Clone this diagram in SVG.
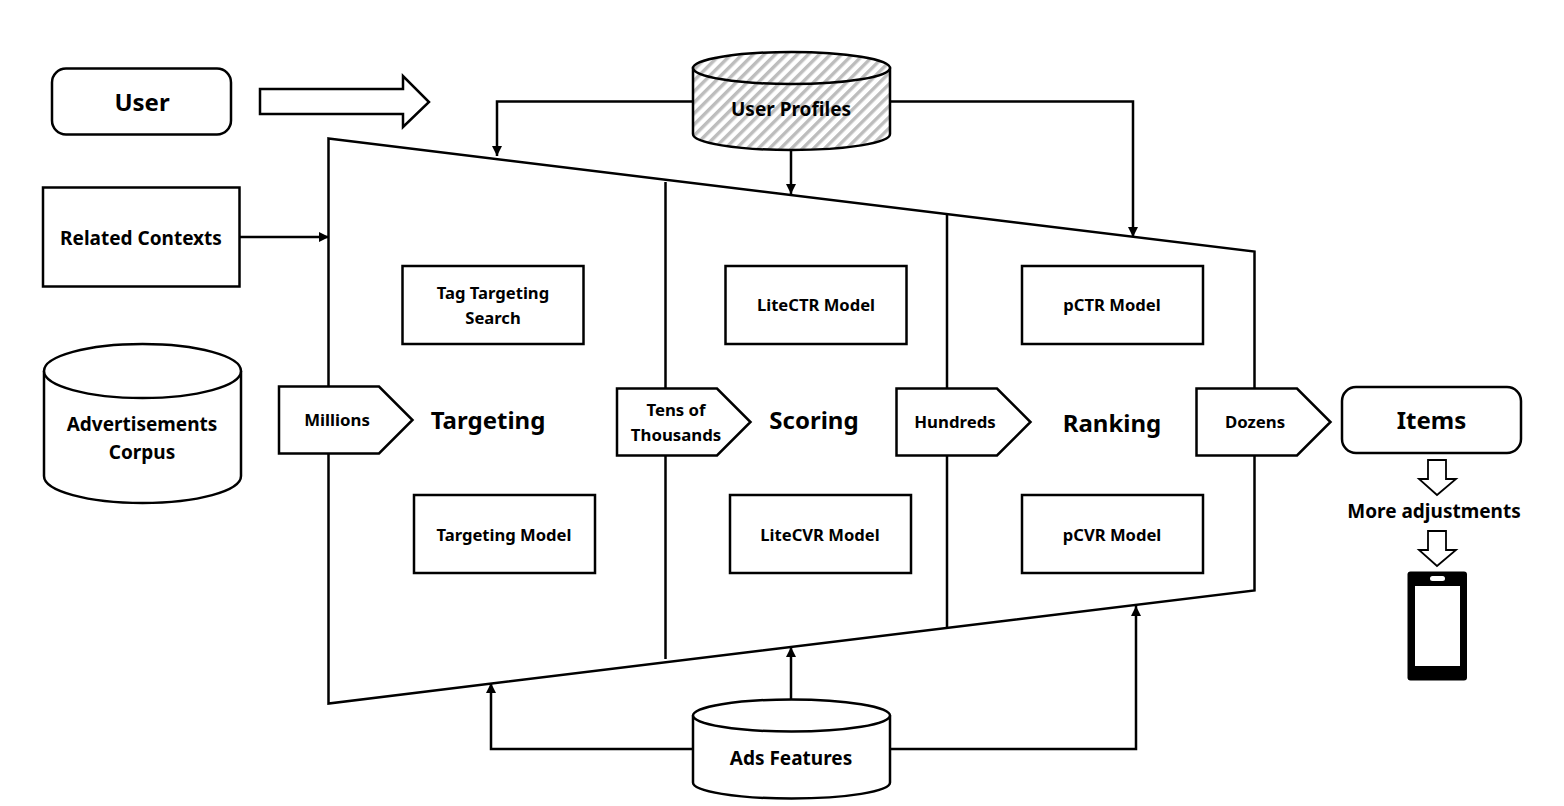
<svg xmlns="http://www.w3.org/2000/svg" width="1564" height="806" viewBox="0 0 1564 806">
<style>
.s{fill:#fff;stroke:#000;stroke-width:2.5}
.n{fill:none;stroke:#000;stroke-width:2.5}
.c{fill:none;stroke:#000;stroke-width:2.5;marker-end:url(#a)}
text{font-family:"Noto Sans","Open Sans","Liberation Sans",sans-serif;font-weight:700;fill:#000;text-anchor:middle}
.t18{font-size:16.600px}.t17{font-size:16.800px}.t20{font-size:19px}.t25{font-size:24px}
</style>
<defs>
<marker id="a" markerUnits="userSpaceOnUse" markerWidth="11" markerHeight="11" refX="10" refY="5" orient="auto"><path d="M0 0L10 5L0 10Z" fill="#000"/></marker>
<pattern id="h" patternUnits="userSpaceOnUse" width="7.800" height="7.800" patternTransform="rotate(-45)"><rect width="7.800" height="7.800" fill="#fff"/><rect width="7.800" height="3.400" fill="#bdbdbd"/></pattern>
</defs>
<rect width="1564" height="806" fill="#fff"/>
<g id="funnel"><path class="s" d="M328.500 138.500L1254.500 251.500V590.500L328.500 703.500Z"/><path class="n" d="M665.500 182V659M947 214V628"/></g>
<g id="connectors">
<path class="c" d="M240 237H329"/>
<path class="c" d="M693 101.500H497V156"/>
<path class="c" d="M791 150V194"/>
<path class="c" d="M890 101.500H1133V237"/>
<path class="c" d="M693 749H491V683"/>
<path class="c" d="M791 700V647"/>
<path class="c" d="M890 749H1136V606"/>
</g>
<g id="user"><rect class="s" x="52" y="68.500" width="179" height="66" rx="14"/><text class="t25" x="142" y="110.500">User</text></g>
<g id="user-arrow"><path class="s" d="M260 89H403V76L429 102L403 127V114H260Z"/></g>
<g id="related-contexts"><rect class="s" x="43" y="187.500" width="196.500" height="99"/><text class="t20" x="141" y="244.500">Related Contexts</text></g>
<g id="corpus"><path class="s" d="M44 371V476C44 491 88 503 142.500 503S241 491 241 476V371"/><ellipse class="s" cx="142.500" cy="371" rx="98.500" ry="27"/><text class="t20" x="142" y="430.500">Advertisements</text><text class="t20" x="142" y="458.500">Corpus</text></g>
<g id="user-profiles"><path d="M693 68V134C693 143 737 150 791.500 150S890 143 890 134V68Z" fill="url(#h)" stroke="#000" stroke-width="2.500"/><ellipse cx="791.500" cy="68" rx="98.500" ry="16" fill="url(#h)" stroke="#000" stroke-width="2.500"/><text class="t20" x="791" y="115.500">User Profiles</text></g>
<g id="ads-features"><path class="s" d="M693 715.500V782.500C693 791.500 737 798.500 791.500 798.500S890 791.500 890 782.500V715.500"/><ellipse class="s" cx="791.500" cy="715.500" rx="98.500" ry="16"/><text class="t20" x="791" y="764.500">Ads Features</text></g>
<g id="tag-targeting"><rect class="s" x="402.500" y="266" width="181" height="78"/><text class="t18" x="493" y="298.500">Tag Targeting</text><text class="t18" x="493" y="323.500">Search</text></g>
<g id="litectr"><rect class="s" x="725.500" y="266" width="181" height="78"/><text class="t18" x="816" y="310.500">LiteCTR Model</text></g>
<g id="pctr"><rect class="s" x="1022" y="266" width="181" height="78"/><text class="t18" x="1112" y="310.500">pCTR Model</text></g>
<g id="targeting-model"><rect class="s" x="414" y="495" width="181" height="78"/><text class="t18" x="504" y="540.500">Targeting Model</text></g>
<g id="litecvr"><rect class="s" x="730" y="495" width="181" height="78"/><text class="t18" x="820" y="540.500">LiteCVR Model</text></g>
<g id="pcvr"><rect class="s" x="1022" y="495" width="181" height="78"/><text class="t18" x="1112" y="540.500">pCVR Model</text></g>
<g id="millions"><path class="s" d="M279 386.500H379L412.500 420L379 453.500H279Z"/><text class="t17" x="337" y="425.500">Millions</text></g>
<g id="tens"><path class="s" d="M617 388.500H717L750.500 422L717 455.500H617Z"/><text class="t17" x="676" y="415.500">Tens of</text><text class="t17" x="676" y="440.500">Thousands</text></g>
<g id="hundreds"><path class="s" d="M896.500 388.500H997L1030.500 422L997 455.500H896.500Z"/><text class="t17" x="955" y="427.500">Hundreds</text></g>
<g id="dozens"><path class="s" d="M1196.500 388.500H1297L1330.500 422L1297 455.500H1196.500Z"/><text class="t17" x="1255" y="427.500">Dozens</text></g>
<g id="targeting"><text class="t25" x="488" y="429">Targeting</text></g>
<g id="scoring"><text class="t25" x="814" y="429">Scoring</text></g>
<g id="ranking"><text class="t25" x="1112" y="432">Ranking</text></g>
<g id="items"><rect class="s" x="1342" y="387" width="179" height="66" rx="14"/><text class="t25" x="1431.500" y="429">Items</text></g>
<g id="down-1"><path d="M1428 460H1446V479H1456L1437 495L1419 479H1428Z" fill="#fff" stroke="#000" stroke-width="1.800"/></g>
<g id="more"><text class="t20" x="1434" y="517.500">More adjustments</text></g>
<g id="down-2"><path d="M1428 531H1446V550H1456L1437 566L1419 550H1428Z" fill="#fff" stroke="#000" stroke-width="1.800"/></g>
<g id="phone"><rect x="1407.500" y="571.500" width="59.500" height="109" rx="3" fill="#000"/><rect x="1415" y="586" width="45" height="80" fill="#fff"/><rect x="1430" y="576" width="15" height="5" rx="2.500" fill="#fff"/></g>
</svg>
